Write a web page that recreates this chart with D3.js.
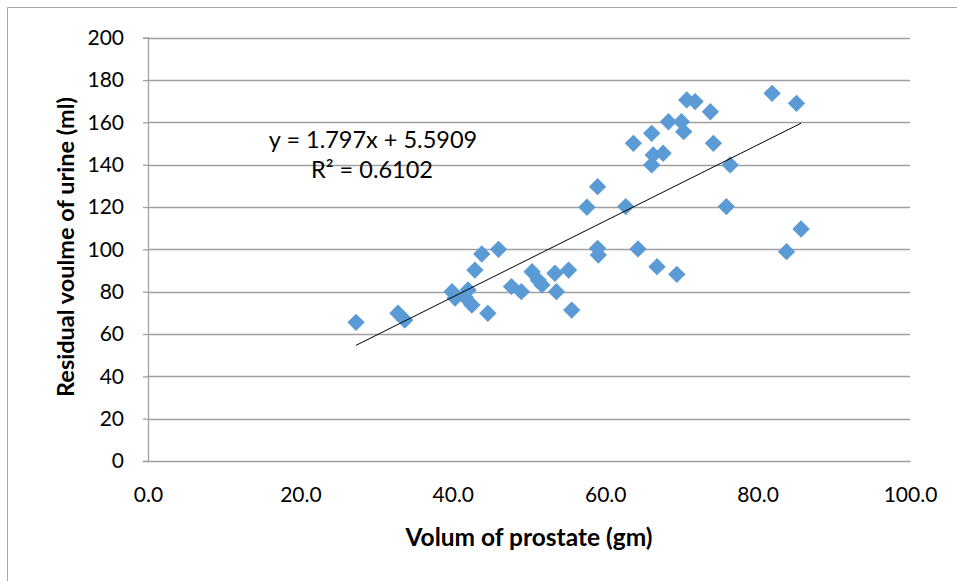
<!DOCTYPE html>
<html>
<head>
<meta charset="utf-8">
<script src="https://cdn.jsdelivr.net/npm/d3@7"></script>
<style>
  html, body { margin: 0; padding: 0; background: #fff; }
  svg { display: block; }
</style>
</head>
<body>
<svg id="chart" width="957" height="581"></svg>
<script>
// Volume of prostate (gm)
const prostateVolume = [
  27.3, 32.8, 33.7, 39.9, 40.3, 42.0, 41.6, 42.5, 42.9, 43.8,
  44.6, 46.0, 47.7, 49.0, 50.4, 51.2, 51.7, 53.4, 53.6, 55.2,
  55.6, 57.6, 59.0, 59.0, 59.1, 62.7, 63.7, 64.3, 66.1, 66.3,
  66.1, 67.6, 66.8, 68.3, 69.4, 70.0, 70.3, 70.7, 71.8, 73.8,
  74.2, 75.9, 76.4, 81.9, 83.8, 85.1, 85.7
];
// Residual volume of urine (ml)
const residualUrine = [
  65.5, 69.8, 66.6, 80.0, 77.0, 80.8, 77.5, 73.7, 90.2, 97.8,
  69.8, 100.0, 82.4, 80.0, 89.4, 85.5, 83.2, 88.7, 80.0, 90.2,
  71.3, 119.9, 129.6, 100.5, 97.3, 120.2, 150.1, 100.2, 154.8, 144.6,
  139.9, 145.4, 91.8, 160.3, 88.2, 160.3, 155.6, 170.6, 169.8, 165.0,
  150.1, 120.2, 139.9, 173.7, 98.9, 169.0, 109.6
];
const xTicks = [0, 20, 40, 60, 80, 100];
const yTicks = [0, 20, 40, 60, 80, 100, 120, 140, 160, 180, 200];
const trendSlope = 1.797;
const trendIntercept = 5.5909;
const trendLabel = "y = 1.797x + 5.5909";
const r2Label = "R² = 0.6102";
const xTitle = "Volum of prostate (gm)";
const yTitle = "Residual voulme of urine (ml)";

(function () {
const FONT = "Lato, 'Open Sans', sans-serif";
const svg = d3.select("#chart");
const mLeft = 148, mRight = 910, mTop = 37.7, mBottom = 461;

const x = d3.scaleLinear().domain([0, 100]).range([mLeft, mRight]);
const y = d3.scaleLinear().domain([0, 200]).range([mBottom, mTop]);

// outer border (left & top visible)
svg.append("path")
  .attr("d", "M7.5,581 L7.5,7.5 L957,7.5")
  .attr("fill", "none").attr("stroke", "#a6a6a6").attr("stroke-width", 1);

// gridlines
svg.append("g").selectAll("line").data(yTicks.filter(d => d > 0)).join("line")
  .attr("x1", mLeft).attr("x2", mRight)
  .attr("y1", d => Math.round(y(d)) + 0.5).attr("y2", d => Math.round(y(d)) + 0.5)
  .attr("stroke", "#a0a0a0").attr("stroke-width", 1.3);

// y axis
const yAxis = d3.axisLeft(y).tickValues(yTicks).tickSize(5).tickPadding(19).tickFormat(d3.format("d"));
const gy = svg.append("g").attr("transform", `translate(${mLeft},0)`).call(yAxis);
gy.select(".domain").attr("stroke", "#a0a0a0").attr("stroke-width", 1.3);
gy.selectAll(".tick line").attr("stroke", "#a0a0a0").attr("stroke-width", 1.3);
gy.selectAll(".tick text").attr("font-family", FONT).attr("font-size", 21).attr("fill", "#000");

// x axis
const xAxis = d3.axisBottom(x).tickValues(xTicks).tickSize(0).tickPadding(26).tickFormat(d3.format(".1f"));
const gx = svg.append("g").attr("transform", `translate(0,${mBottom})`).call(xAxis);
gx.select(".domain").attr("stroke", "#a0a0a0").attr("stroke-width", 1.3);
gx.selectAll(".tick text").attr("font-family", FONT).attr("font-size", 21).attr("fill", "#000");

// points
const pts = prostateVolume.map((v, i) => [v, residualUrine[i]]);
const diamond = d3.symbol().type(d3.symbolSquare).size(150);
svg.append("g").selectAll("path").data(pts).join("path")
  .attr("d", diamond)
  .attr("transform", d => `translate(${x(d[0])},${y(d[1])}) rotate(45)`)
  .attr("fill", "#5b9bd5");

// trendline
const xMin = d3.min(prostateVolume), xMax = d3.max(prostateVolume);
svg.append("line")
  .attr("x1", x(xMin)).attr("y1", y(trendSlope * xMin + trendIntercept))
  .attr("x2", x(xMax)).attr("y2", y(trendSlope * xMax + trendIntercept))
  .attr("stroke", "#000").attr("stroke-width", 1);

// equation labels
svg.append("text").attr("x", 373).attr("y", 148).attr("text-anchor", "middle")
  .attr("font-family", FONT).attr("font-size", 23.5).text(trendLabel);
svg.append("text").attr("x", 372).attr("y", 178).attr("text-anchor", "middle")
  .attr("font-family", FONT).attr("font-size", 23.5).text(r2Label);

// axis titles
svg.append("text").attr("x", 529).attr("y", 546).attr("text-anchor", "middle")
  .attr("font-family", FONT).attr("font-size", 24.5).attr("font-weight", "bold").text(xTitle);
svg.append("text").attr("transform", `translate(66,247) rotate(-90)`)
  .attr("text-anchor", "middle").attr("dy", "0.35em")
  .attr("font-family", FONT).attr("font-size", 23.5).attr("font-weight", "bold").text(yTitle);
})();
</script>
</body>
</html>
